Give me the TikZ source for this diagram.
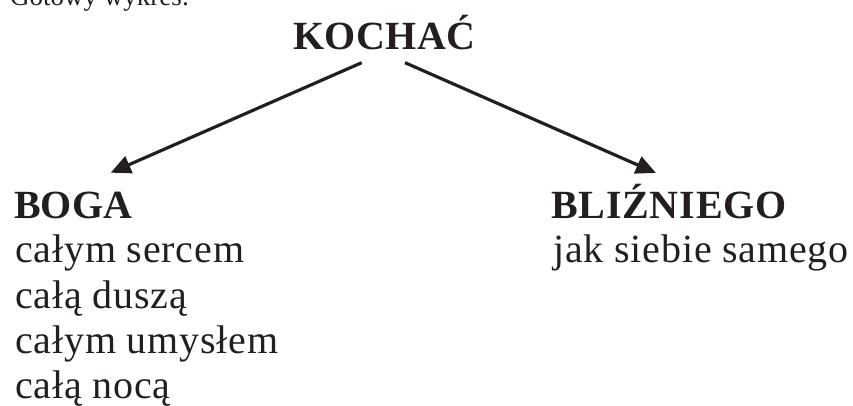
\documentclass[tikz,border=0pt]{standalone}
\usepackage{fontspec}
\setmainfont{Liberation Serif}
\usetikzlibrary{arrows.meta}
\definecolor{ink}{RGB}{35,31,32}
\begin{document}
\begin{tikzpicture}[x=1pt,y=-1pt,
  lbl/.style={anchor=base west,inner sep=0pt,text=ink,font=\fontsize{40}{45}\selectfont\addfontfeature{LetterSpace=2}},
  head/.style={anchor=base west,inner sep=0pt,text=ink,font=\fontsize{40}{45}\selectfont\bfseries},
  small/.style={anchor=base west,inner sep=0pt,text=ink,font=\fontsize{27}{30}\selectfont},
  arr/.style={draw=ink,line width=3.2pt,-{Triangle[length=20pt,width=18pt]}}]
\useasboundingbox (0,0) rectangle (853,406);
\node[small] (title) at (10,6) {Gotowy wykres:};
\node[head,font=\fontsize{40}{45}\selectfont\bfseries\addfontfeature{LetterSpace=1}] (k) at (293,49.5) {KOCHAĆ};
\node[head] (boga) at (14,218.5) {BOGA};
\node[head,font=\fontsize{40}{45}\selectfont\bfseries\addfontfeature{LetterSpace=2}] (bl) at (551,218.5) {BLIŹNIEGO};
\node[lbl] (b1) at (15,262.5) {całym sercem};
\node[lbl] (b2) at (15,308) {całą duszą};
\node[lbl] (b3) at (15,353.5) {całym umysłem};
\node[lbl] (b4) at (15,398) {całą nocą};
\node[lbl] (r1) at (553,262.5) {jak siebie samego};
\coordinate (kl) at (361.7,62.7);
\coordinate (kr) at (405,62.7);
\coordinate (bt) at (110.7,172.7);
\coordinate (rt) at (656,173);
\draw[arr] (kl) -- (bt);
\draw[arr] (kr) -- (rt);
\end{tikzpicture}
\end{document}
